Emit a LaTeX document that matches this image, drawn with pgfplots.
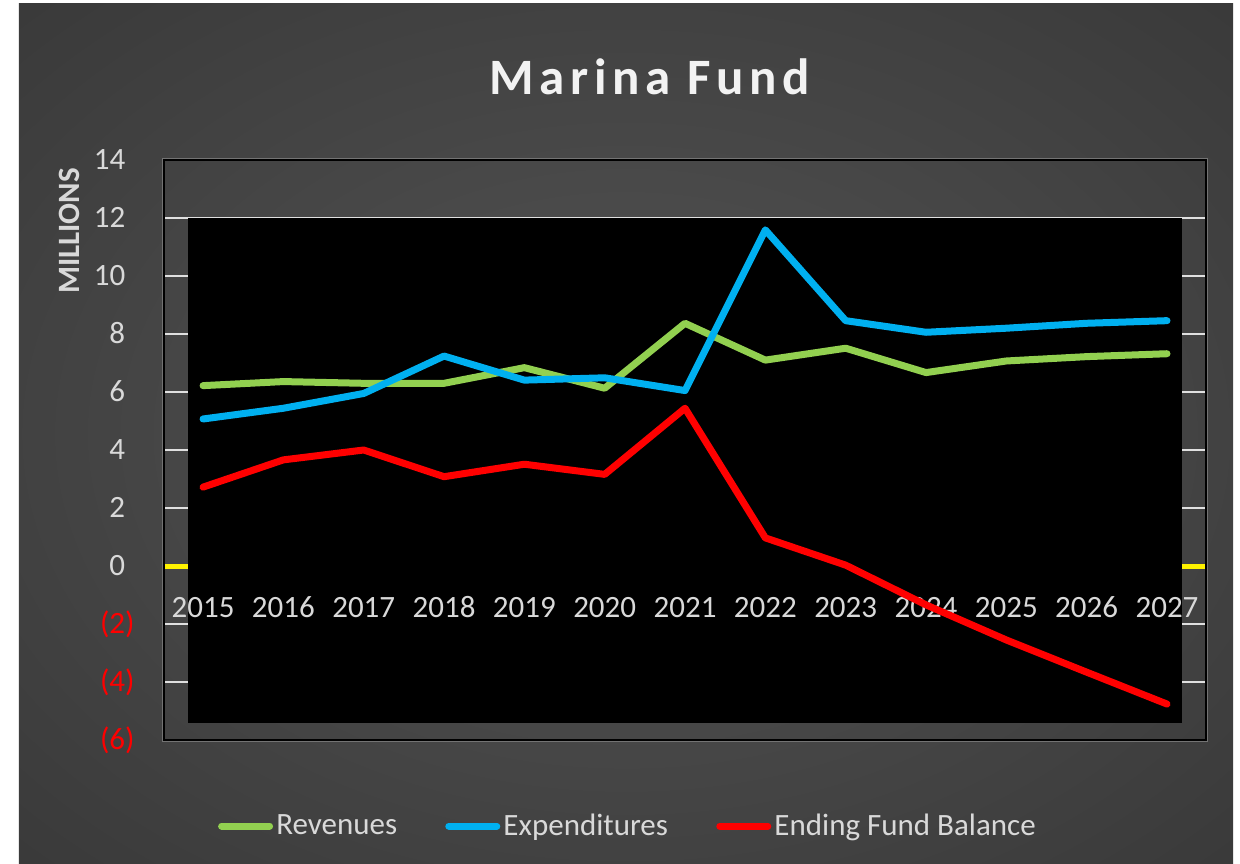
\documentclass[border=0pt]{standalone}
\usepackage{fontspec}
\setmainfont{Carlito}
\usepackage{pgfplots}
\usepackage{pgfplotstable}
\pgfplotsset{compat=1.18}
\definecolor{rev}{HTML}{92D050}
\definecolor{expc}{HTML}{00B0F0}
\definecolor{efb}{HTML}{FF0000}
\definecolor{txt}{HTML}{D9D9D9}
\definecolor{bgin}{HTML}{4E4E4E}
\definecolor{bgout}{HTML}{262626}
\pgfdeclareradialshading{bgshade}{\pgfpoint{0bp}{0bp}}{color(0bp)=(bgin); color(8bp)=(bgin); color(62bp)=(bgout); color(80bp)=(bgout)}
\pgfplotstableread{
year rev exp efb
2015 6.22 5.07 2.72
2016 6.36 5.44 3.66
2017 6.30 5.95 4.00
2018 6.30 7.24 3.08
2019 6.84 6.41 3.51
2020 6.13 6.49 3.16
2021 8.37 6.05 5.44
2022 7.10 11.59 0.97
2023 7.51 8.46 0.03
2024 6.67 8.06 -1.34
2025 7.07 8.20 -2.55
2026 7.22 8.37 -3.66
2027 7.32 8.46 -4.76
}\data
\begin{document}
\begin{tikzpicture}
\begin{axis}[
  set layers,
  clip=false,
  at={(82pt,61.5pt)}, anchor=south west,
  scale only axis, width=521pt, height=290pt,
  xmin=2014.514, xmax=2027.486, ymin=-6, ymax=14,
  xtick={2015,2016,2017,2018,2019,2020,2021,2022,2023,2024,2025,2026,2027},
  xticklabels={2015,2016,2017,2018,2019,2020,2021,2022,2023,2024,2025,2026,2027},
  ytick={-6,-4,-2,0,2,4,6,8,10,12,14},
  yticklabels={\textcolor{efb}{(6)},\textcolor{efb}{(4)},\textcolor{efb}{(2)},0\phantom{)},2\phantom{)},4\phantom{)},6\phantom{)},8\phantom{)},10\phantom{)},12\phantom{)},14\phantom{)}},
  /pgf/number format/assume math mode=true,
  ticklabel style={font=\fontsize{15.5}{18}\selectfont, text=txt},
  xticklabel style={anchor=base, yshift=61.5pt},
  yticklabel style={anchor=east, inner sep=0pt, xshift=-14.5pt},
  tick style={draw=none},
  axis line style={black, line width=0.8pt},
  legend style={at={(0.4458,-0.1483)}, anchor=center, draw=none, fill=none, text=txt,
    font=\fontsize{15.5}{18}\selectfont, nodes={inner sep=1.6pt},
    /tikz/every even column/.append style={column sep=22.5pt}},
  legend columns=3,
  legend cell align=left,
  legend image code/.code={\draw[#1, line width=3.5pt, line cap=round] (0pt,0pt) -- (24pt,0pt);},
  every axis plot/.append style={line width=3.5pt, line cap=round, line join=round},
]
\begin{pgfonlayer}{axis background}
\fill[white] (rel axis cs:-0.1574,-0.2121) rectangle (rel axis cs:1.0326,1.2759);
\shade[shading=bgshade] (rel axis cs:-0.1392,-0.2121) rectangle (rel axis cs:1.0259,1.2690);
\draw[white!45!black, line width=0.5pt] (rel axis cs:-0.0015,-0.0030) rectangle (rel axis cs:1.0015,1.0030);
\pgfplotsinvokeforeach{-6,-4,-2,2,4,6,8,10,12,14}{
  \draw[white!88!black, line width=0.75pt] (axis cs:2014.514,#1) -- (axis cs:2027.486,#1);
}
\draw[yellow, line width=2.5pt] (axis cs:2014.514,0) -- (axis cs:2027.486,0);
\fill[black] (axis cs:2014.813,-5.41) rectangle (axis cs:2027.187,12);
\end{pgfonlayer}
\addplot[rev] table[x=year,y=rev] {\data};
\addlegendentry{Revenues}
\addplot[expc] table[x=year,y=exp] {\data};
\addlegendentry{Expenditures}
\addplot[efb] table[x=year,y=efb] {\data};
\addlegendentry{Ending Fund Balance}
\end{axis}
\node[font=\fontsize{25.5}{30}\selectfont\bfseries\addfontfeatures{LetterSpace=11}, text=white!95!black] at (325pt,393pt) {Marina Fund};
\node[font=\fontsize{15.5}{18}\selectfont\bfseries, text=txt, rotate=90] at (34.5pt,316pt) {MILLIONS};
\end{tikzpicture}
\end{document}
